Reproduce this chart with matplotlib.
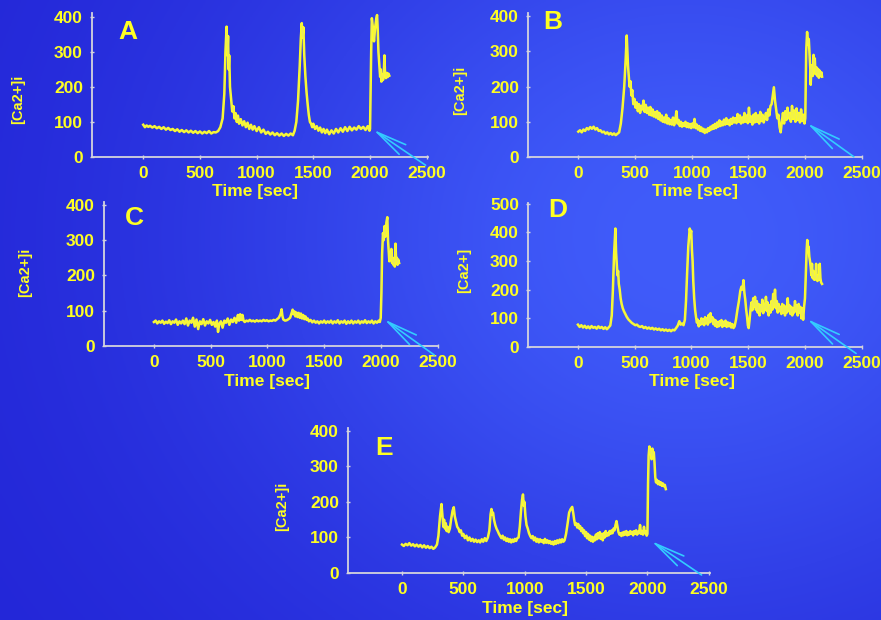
import matplotlib
matplotlib.use('Agg')
import matplotlib.pyplot as plt
import numpy as np

plt.rcParams['font.family'] = ['Liberation Sans', 'DejaVu Sans']
plt.rcParams['font.weight'] = 'bold'

# (time [sec], [Ca2+]i)
trace_a = [
    (0, 92), (15, 85), (30, 90), (45, 86), (60, 89), (80, 84), (100, 88), (120, 82), (140, 86), (160, 80),
    (180, 85), (200, 78), (220, 83), (240, 77), (260, 80), (280, 74), (300, 79), (320, 72), (340, 77), (360, 71),
    (380, 76), (400, 70), (420, 75), (440, 69), (460, 74), (480, 68), (500, 73), (520, 67), (540, 72), (560, 68),
    (580, 74), (600, 67), (620, 71), (640, 70), (660, 74), (680, 85), (700, 110), (715, 180), (725, 300), (735, 372),
    (742, 290), (748, 345), (753, 250), (758, 290), (765, 200), (775, 165), (785, 130), (795, 145), (805, 110),
    (815, 125), (825, 100), (835, 118), (845, 95), (860, 108), (875, 90), (890, 102), (905, 85), (920, 98), (935, 80),
    (950, 92), (965, 78), (980, 88), (1000, 74), (1020, 85), (1040, 70), (1060, 78), (1080, 66), (1100, 72),
    (1120, 64), (1140, 70), (1160, 62), (1180, 68), (1200, 61), (1220, 67), (1240, 60), (1260, 66), (1280, 61),
    (1300, 67), (1320, 62), (1335, 75), (1350, 100), (1365, 160), (1380, 260), (1390, 340), (1398, 382),
    (1405, 340), (1412, 370), (1420, 290), (1430, 230), (1440, 185), (1450, 150), (1460, 120), (1470, 100),
    (1480, 95), (1490, 85), (1500, 95), (1515, 80), (1530, 88), (1545, 75), (1560, 84), (1575, 70), (1590, 80),
    (1605, 68), (1620, 78), (1640, 65), (1660, 76), (1680, 67), (1700, 80), (1720, 70), (1740, 82), (1760, 72),
    (1780, 85), (1800, 74), (1820, 86), (1840, 76), (1860, 84), (1880, 78), (1900, 88), (1920, 80), (1940, 86),
    (1960, 77), (1980, 88), (1995, 75), (2000, 80), (2010, 300), (2016, 396), (2025, 370), (2035, 330),
    (2045, 370), (2055, 395), (2062, 405), (2068, 360), (2074, 300), (2082, 260), (2089, 229), (2095, 250),
    (2100, 215), (2108, 235), (2115, 220), (2122, 245), (2127, 290), (2132, 240), (2140, 225), (2148, 240),
    (2155, 228), (2162, 238), (2170, 232),
]

trace_b = [
    (0, 72), (15, 76), (30, 70), (45, 78), (60, 74), (75, 82), (90, 78), (105, 85), (120, 80), (135, 86), (150, 78),
    (165, 82), (180, 74), (195, 76), (210, 70), (225, 72), (240, 66), (255, 70), (270, 64), (285, 68), (300, 63),
    (315, 67), (330, 62), (345, 66), (360, 70), (375, 95), (390, 140), (405, 200), (418, 280), (427, 345),
    (433, 300), (438, 260), (445, 230), (452, 200), (460, 215), (468, 175), (476, 190), (485, 150), (495, 165),
    (505, 140), (515, 155), (525, 130), (535, 150), (545, 125), (555, 145), (565, 135), (575, 160), (585, 128),
    (595, 148), (605, 125), (615, 140), (625, 120), (635, 142), (645, 118), (655, 135), (665, 115), (675, 128),
    (685, 112), (695, 130), (705, 108), (715, 125), (725, 104), (735, 118), (745, 100), (755, 112), (765, 98),
    (775, 120), (785, 95), (795, 110), (805, 93), (815, 105), (825, 92), (835, 112), (845, 90), (855, 104),
    (865, 130), (875, 95), (885, 105), (895, 88), (905, 100), (915, 86), (925, 96), (935, 88), (945, 100),
    (955, 85), (965, 96), (975, 84), (985, 94), (995, 82), (1005, 95), (1015, 84), (1025, 108), (1035, 82),
    (1045, 92), (1055, 78), (1065, 88), (1075, 74), (1085, 84), (1095, 72), (1105, 80), (1115, 68), (1125, 78),
    (1135, 70), (1145, 82), (1155, 74), (1165, 86), (1175, 78), (1185, 90), (1195, 80), (1205, 94), (1215, 82),
    (1225, 98), (1235, 86), (1245, 104), (1255, 88), (1265, 100), (1275, 90), (1285, 106), (1295, 92),
    (1305, 110), (1315, 94), (1325, 104), (1335, 90), (1345, 108), (1355, 94), (1365, 112), (1375, 98),
    (1385, 110), (1395, 96), (1405, 122), (1415, 100), (1425, 118), (1435, 95), (1445, 112), (1455, 98),
    (1465, 125), (1475, 100), (1485, 118), (1495, 96), (1505, 140), (1515, 100), (1525, 115), (1535, 92),
    (1545, 120), (1555, 98), (1565, 125), (1575, 100), (1585, 118), (1595, 95), (1605, 128), (1615, 102),
    (1625, 120), (1635, 98), (1645, 110), (1655, 125), (1665, 105), (1675, 135), (1685, 118), (1695, 145),
    (1705, 150), (1715, 175), (1725, 198), (1735, 160), (1745, 135), (1755, 110), (1765, 120), (1775, 85),
    (1785, 70), (1795, 100), (1805, 125), (1815, 95), (1825, 130), (1835, 105), (1845, 140), (1855, 110),
    (1865, 125), (1875, 100), (1885, 145), (1895, 108), (1905, 132), (1915, 100), (1925, 138), (1935, 105),
    (1945, 125), (1955, 98), (1965, 135), (1975, 102), (1985, 120), (1995, 95), (2002, 110), (2010, 300),
    (2018, 355), (2026, 320), (2033, 335), (2040, 290), (2046, 250), (2050, 205), (2056, 260), (2062, 240),
    (2068, 230), (2075, 290), (2080, 250), (2086, 280), (2092, 235), (2100, 255), (2108, 230), (2115, 250),
    (2122, 225), (2130, 245), (2138, 230), (2145, 240), (2150, 228),
]

trace_c = [
    (0, 68), (15, 72), (30, 64), (45, 70), (60, 66), (75, 72), (90, 63), (105, 69), (120, 65), (135, 73), (150, 62),
    (165, 70), (180, 66), (195, 75), (210, 60), (225, 70), (240, 64), (255, 72), (270, 62), (285, 78), (300, 58),
    (315, 72), (330, 66), (345, 80), (360, 55), (375, 75), (390, 48), (405, 70), (420, 62), (435, 76), (450, 58),
    (465, 70), (480, 64), (495, 74), (510, 60), (525, 68), (540, 55), (555, 72), (565, 40), (575, 62), (590, 70),
    (605, 52), (620, 72), (635, 66), (650, 78), (665, 60), (680, 75), (695, 68), (710, 80), (725, 66), (740, 88),
    (750, 72), (760, 90), (770, 74), (780, 88), (790, 72), (800, 68), (815, 72), (830, 70), (845, 74), (860, 70),
    (875, 72), (890, 69), (905, 73), (920, 70), (935, 72), (950, 70), (965, 74), (980, 71), (995, 73), (1010, 70),
    (1025, 72), (1040, 71), (1055, 74), (1070, 72), (1085, 76), (1100, 80), (1115, 90), (1125, 104), (1132, 85),
    (1140, 75), (1155, 72), (1170, 73), (1185, 76), (1200, 80), (1212, 92), (1222, 103), (1230, 90), (1238, 98),
    (1246, 84), (1255, 95), (1265, 82), (1275, 94), (1285, 80), (1295, 92), (1305, 78), (1315, 88), (1325, 76),
    (1335, 84), (1345, 74), (1355, 78), (1365, 70), (1380, 74), (1395, 67), (1410, 72), (1425, 66), (1440, 70),
    (1455, 64), (1470, 70), (1485, 66), (1500, 72), (1515, 65), (1530, 70), (1545, 66), (1560, 72), (1575, 64),
    (1590, 70), (1605, 66), (1620, 73), (1635, 64), (1650, 70), (1665, 66), (1680, 72), (1695, 63), (1710, 70),
    (1725, 65), (1740, 72), (1755, 64), (1770, 70), (1785, 66), (1800, 72), (1815, 64), (1830, 70), (1845, 66),
    (1860, 73), (1875, 65), (1890, 70), (1905, 66), (1920, 72), (1935, 64), (1950, 70), (1965, 66), (1980, 72),
    (1990, 68), (1998, 80), (2004, 150), (2010, 260), (2018, 320), (2025, 300), (2032, 340), (2040, 310),
    (2048, 350), (2056, 365), (2062, 300), (2068, 270), (2074, 240), (2080, 265), (2086, 245), (2092, 275),
    (2098, 235), (2104, 250), (2110, 230), (2116, 245), (2122, 225), (2128, 290), (2134, 240), (2140, 250),
    (2146, 230), (2152, 245), (2160, 235),
]

trace_d = [
    (0, 78), (15, 70), (30, 76), (45, 68), (60, 74), (75, 66), (90, 72), (105, 65), (120, 73), (135, 67), (150, 70),
    (165, 64), (180, 72), (195, 66), (210, 70), (225, 63), (240, 69), (255, 62), (270, 68), (285, 75), (298, 110),
    (308, 200), (318, 320), (330, 413), (336, 330), (342, 290), (348, 250), (354, 265), (360, 220), (368, 200),
    (376, 170), (385, 150), (395, 135), (405, 125), (418, 115), (430, 105), (445, 96), (460, 90), (475, 84),
    (490, 80), (505, 76), (520, 78), (535, 72), (550, 70), (565, 73), (580, 66), (595, 70), (610, 64), (625, 68),
    (640, 63), (655, 67), (670, 61), (685, 65), (700, 60), (715, 64), (730, 58), (745, 62), (760, 57), (775, 61),
    (790, 56), (805, 60), (820, 55), (835, 60), (850, 58), (865, 66), (880, 75), (893, 90), (905, 78), (918, 82),
    (930, 76), (942, 95), (952, 160), (962, 260), (972, 350), (985, 413), (992, 395), (998, 405), (1004, 340),
    (1010, 300), (1016, 230), (1024, 170), (1032, 130), (1040, 105), (1048, 85), (1056, 95), (1064, 72),
    (1072, 90), (1080, 78), (1088, 100), (1096, 80), (1104, 96), (1112, 76), (1120, 104), (1128, 84), (1136, 100),
    (1144, 78), (1152, 112), (1160, 86), (1168, 118), (1176, 90), (1184, 104), (1192, 80), (1200, 96), (1208, 74),
    (1216, 92), (1224, 70), (1232, 86), (1240, 72), (1248, 90), (1256, 76), (1264, 94), (1272, 70), (1280, 88),
    (1290, 74), (1300, 92), (1310, 70), (1320, 86), (1330, 72), (1340, 84), (1350, 68), (1360, 80), (1370, 66),
    (1380, 72), (1392, 95), (1405, 130), (1418, 160), (1430, 195), (1440, 210), (1450, 200), (1458, 233),
    (1466, 190), (1474, 165), (1482, 130), (1490, 105), (1497, 75), (1504, 66), (1512, 95), (1520, 130),
    (1528, 155), (1536, 128), (1544, 170), (1552, 140), (1560, 175), (1568, 130), (1576, 160), (1584, 120),
    (1592, 150), (1600, 110), (1608, 145), (1616, 125), (1624, 165), (1632, 118), (1640, 150), (1648, 130),
    (1656, 175), (1664, 125), (1672, 155), (1680, 110), (1688, 145), (1696, 120), (1704, 160), (1712, 130),
    (1720, 185), (1728, 140), (1736, 200), (1744, 135), (1752, 160), (1760, 120), (1768, 150), (1776, 125),
    (1784, 140), (1792, 115), (1800, 150), (1808, 120), (1816, 145), (1824, 110), (1832, 140), (1840, 120),
    (1848, 170), (1856, 125), (1864, 145), (1872, 115), (1880, 140), (1888, 110), (1896, 135), (1904, 120),
    (1912, 160), (1920, 125), (1928, 145), (1936, 110), (1944, 150), (1952, 120), (1960, 140), (1968, 100),
    (1976, 135), (1984, 95), (1992, 140), (2000, 170), (2008, 260), (2015, 340), (2020, 373), (2026, 340),
    (2032, 350), (2038, 315), (2044, 300), (2050, 280), (2056, 250), (2062, 290), (2068, 240), (2074, 265),
    (2080, 235), (2086, 250), (2092, 235), (2098, 290), (2104, 240), (2110, 230), (2118, 250), (2124, 235),
    (2130, 290), (2136, 240), (2142, 225), (2150, 220),
]

trace_e = [
    (0, 80), (15, 76), (30, 82), (45, 78), (60, 84), (75, 77), (90, 81), (105, 75), (120, 80), (135, 74), (150, 79),
    (165, 72), (180, 78), (195, 71), (210, 76), (225, 70), (240, 74), (255, 68), (270, 72), (285, 80), (297, 105),
    (310, 160), (322, 194), (330, 160), (337, 130), (343, 150), (350, 125), (357, 140), (364, 118), (372, 130),
    (380, 115), (390, 125), (400, 150), (412, 175), (422, 185), (430, 160), (440, 145), (450, 130), (460, 125),
    (470, 115), (480, 120), (490, 105), (500, 110), (512, 98), (525, 105), (537, 92), (550, 100), (562, 90),
    (575, 96), (587, 88), (600, 94), (612, 87), (625, 92), (637, 86), (650, 95), (662, 88), (675, 98), (687, 90),
    (700, 100), (712, 120), (722, 165), (729, 180), (735, 165), (742, 170), (750, 150), (760, 135), (770, 125),
    (780, 118), (790, 110), (800, 104), (810, 98), (820, 105), (830, 94), (840, 100), (850, 90), (860, 97),
    (870, 88), (880, 95), (890, 86), (900, 94), (910, 88), (920, 96), (930, 90), (940, 98), (950, 100), (960, 130),
    (970, 175), (978, 205), (986, 221), (992, 190), (998, 200), (1006, 160), (1015, 135), (1025, 125), (1035, 112),
    (1045, 104), (1055, 98), (1065, 104), (1075, 92), (1085, 100), (1095, 88), (1105, 96), (1115, 86), (1125, 95),
    (1135, 88), (1145, 92), (1155, 84), (1165, 96), (1175, 85), (1185, 92), (1195, 84), (1205, 90), (1215, 82),
    (1225, 88), (1235, 80), (1245, 90), (1255, 82), (1265, 92), (1275, 84), (1285, 94), (1295, 86), (1305, 95),
    (1315, 88), (1325, 92), (1337, 110), (1350, 140), (1362, 170), (1375, 180), (1387, 186), (1395, 170),
    (1403, 150), (1411, 135), (1420, 140), (1428, 128), (1436, 138), (1444, 125), (1452, 132), (1460, 118),
    (1468, 126), (1476, 112), (1484, 120), (1492, 104), (1500, 115), (1508, 98), (1516, 110), (1524, 94),
    (1532, 105), (1540, 90), (1548, 102), (1556, 88), (1564, 100), (1572, 92), (1580, 108), (1588, 95),
    (1596, 112), (1604, 98), (1612, 115), (1620, 96), (1628, 110), (1636, 92), (1644, 112), (1652, 100),
    (1660, 118), (1668, 104), (1676, 112), (1684, 106), (1692, 118), (1700, 110), (1708, 120), (1716, 112),
    (1724, 125), (1732, 120), (1740, 135), (1748, 146), (1756, 130), (1764, 115), (1772, 108), (1780, 112),
    (1788, 104), (1796, 114), (1804, 106), (1812, 116), (1820, 108), (1828, 118), (1836, 106), (1844, 114),
    (1852, 108), (1860, 118), (1868, 110), (1876, 116), (1884, 106), (1892, 118), (1900, 110), (1908, 120),
    (1916, 108), (1924, 116), (1932, 112), (1940, 135), (1948, 110), (1956, 118), (1964, 108), (1972, 130),
    (1980, 112), (1988, 116), (1994, 105), (2000, 110), (2005, 250), (2010, 330), (2016, 356), (2022, 335),
    (2028, 345), (2034, 320), (2040, 350), (2046, 330), (2052, 340), (2058, 310), (2064, 270), (2070, 255),
    (2078, 262), (2086, 250), (2094, 258), (2102, 248), (2110, 255), (2118, 245), (2126, 252), (2134, 244),
    (2142, 248), (2150, 236),
]

letters = ['A', 'B', 'C', 'D', 'E']
ylabels = ['[Ca2+]i', '[Ca2+]i', '[Ca2+]i', '[Ca2+]', '[Ca2+]i']
x_ticks = [0, 500, 1000, 1500, 2000, 2500]
y_ticks_400 = [0, 100, 200, 300, 400]
y_ticks_500 = [0, 100, 200, 300, 400, 500]
# arrow tip and tail (time, value) for each panel
arrow_tips = [(2010, 82), (2000, 100), (2010, 80), (2000, 103), (2015, 94)]
arrow_tails = [(2510, -28), (2450, -4), (2490, -30), (2470, -28), (2460, -10)]

YELLOW = '#ffff22'
AXIS = '#d4d4dc'
CYAN = '#33ccff'

fig = plt.figure(figsize=(8.81, 6.20), dpi=100)

# blue slide background
bg = fig.add_axes([0, 0, 1, 1])
gx, gy = np.meshgrid(np.linspace(0, 1, 300), np.linspace(1, 0, 220))
w = np.exp(-((gx - 0.78) ** 2 / 0.30 + (gy - 0.62) ** 2 / 0.45))
dark = np.array([0x22, 0x24, 0xd6]) / 255
light = np.array([0x40, 0x5c, 0xfa]) / 255
img = dark[None, None, :] * (1 - w[..., None]) + light[None, None, :] * w[..., None]
bg.imshow(img, aspect='auto', extent=[0, 1, 0, 1])
bg.set_axis_off()

panels = [
    # rect, xlim, ylim top, letter pos, ylabel pos, xlabel pos
    ([0.1044, 0.7468, 0.3814, 0.2323], (-452, 2511), 411, (0.077, 0.87), (-0.22, 0.40), (0.485, -0.24)),
    ([0.5993, 0.7468, 0.3791, 0.2323], (-444, 2502), 409, (0.045, 0.94), (-0.204, 0.465), (0.50, -0.24)),
    ([0.1180, 0.4419, 0.3791, 0.2323], (-440, 2502), 408, (0.063, 0.89), (-0.236, 0.51), (0.487, -0.248)),
    ([0.5993, 0.4403, 0.3791, 0.2323], (-440, 2502), 502, (0.06, 0.95), (-0.19, 0.53), (0.49, -0.24)),
    ([0.3950, 0.0758, 0.4109, 0.2339], (-440, 2510), 408, (0.075, 0.86), (-0.183, 0.457), (0.489, -0.243)),
]
traces = [trace_a, trace_b, trace_c, trace_d, trace_e]

for i, (rect, xlim, ytop, lpos, ylpos, xlpos) in enumerate(panels):
    ax = fig.add_axes(rect)
    ax.patch.set_alpha(0)
    data = np.array(traces[i], dtype=float)
    ax.plot(data[:, 0], data[:, 1], color=YELLOW, lw=1.8, zorder=3)
    ax.plot(data[:, 0], data[:, 1], color='#c8c8c0', lw=0.5, alpha=0.35, zorder=4)

    ax.annotate('', xy=arrow_tips[i], xytext=arrow_tails[i],
                arrowprops=dict(arrowstyle='->,head_length=2.2,head_width=0.42',
                                color=CYAN, lw=1.2),
                annotation_clip=False, zorder=5)

    ax.set_xlim(*xlim)
    ax.set_ylim(0, ytop)
    ax.set_xticks(x_ticks)
    ax.set_yticks(y_ticks_500 if i == 3 else y_ticks_400)
    for s in ['top', 'right']:
        ax.spines[s].set_visible(False)
    for s in ['left', 'bottom']:
        ax.spines[s].set_color(AXIS)
        ax.spines[s].set_linewidth(1.3)
    ax.tick_params(colors=AXIS, labelcolor=YELLOW, labelsize=12.5, length=3,
                   width=1, direction='inout', pad=5)
    for lab in ax.get_xticklabels() + ax.get_yticklabels():
        lab.set_fontweight('bold')

    ax.text(lpos[0], lpos[1], letters[i], transform=ax.transAxes, color=YELLOW,
            fontsize=19, fontweight='bold', ha='left', va='center')
    ax.text(ylpos[0], ylpos[1], ylabels[i], transform=ax.transAxes, color=YELLOW,
            fontsize=10.5, fontweight='bold', ha='center', va='center', rotation=90)
    ax.text(xlpos[0], xlpos[1], 'Time [sec]', transform=ax.transAxes, color=YELLOW,
            fontsize=12.5, fontweight='bold', ha='center', va='center')

fig.savefig('out.png', dpi=100)
